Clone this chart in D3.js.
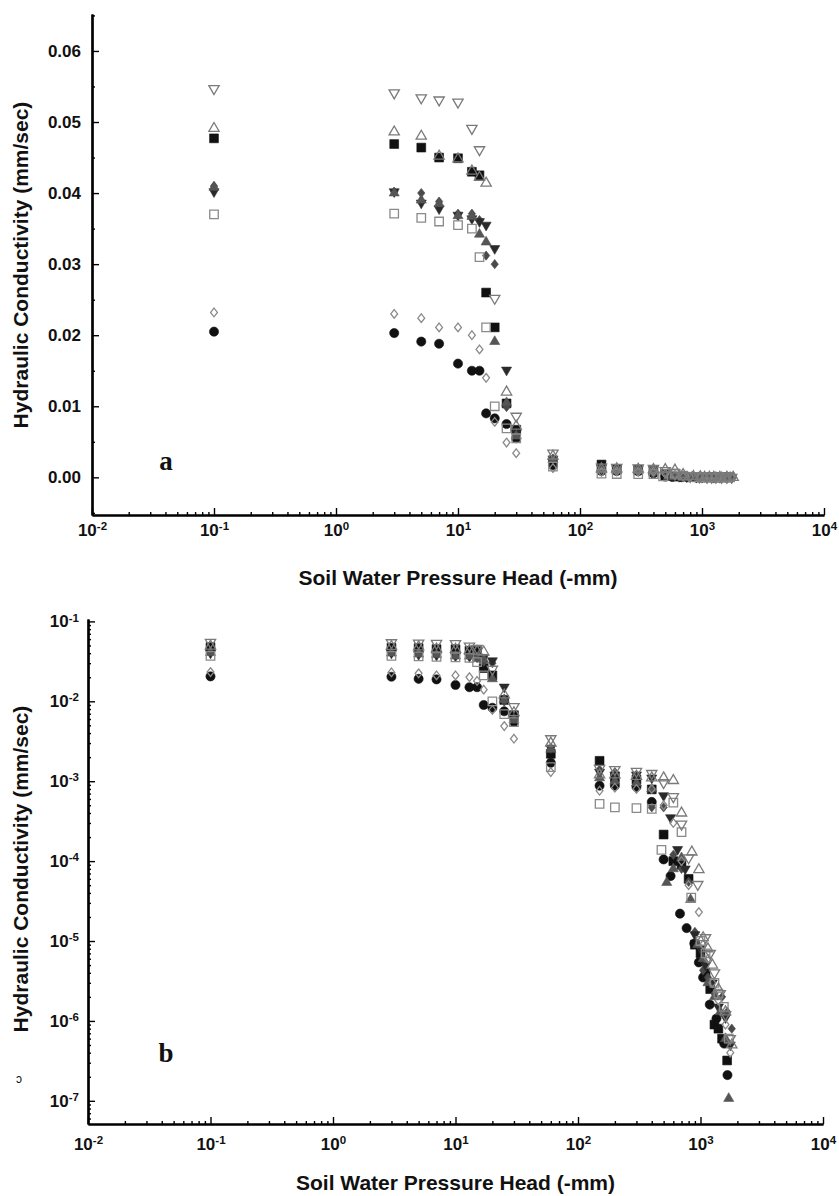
<!DOCTYPE html>
<meta charset="utf-8">
<title>Hydraulic Conductivity vs Soil Water Pressure Head</title>
<style>
body { margin: 0; background: #fff; }
svg text { font-family: "Liberation Sans", Arial, sans-serif; fill: #111; }
</style>
<div id="chart"></div>
<script src="https://d3js.org/d3.v7.min.js"></script>
<script>

// pressure head (-mm) and hydraulic conductivity (mm/sec), one pair of arrays per symbol
var headOpenDown = [0.1, 3, 5, 7, 10, 13, 15, 20, 30, 60, 150, 200, 300, 400, 500, 600, 700, 800, 950, 1100, 1200, 1300, 1450, 1600, 1750];
var condOpenDown = [0.0547, 0.0541, 0.0534, 0.0531, 0.0528, 0.0491, 0.0461, 0.0252, 0.0086, 0.0034, 0.00145, 0.0014, 0.00133, 0.00125, 0.00096, 0.00064, 0.00029, 0.00011, 5.1e-5, 1.1e-5, 7e-6, 4e-6, 2.2e-6, 1.2e-6, 6e-7];

var headOpenUp = [0.1, 3, 5, 7, 10, 13, 15, 17, 25, 30, 60, 150, 200, 300, 400, 500, 600, 700, 850, 970, 1050, 1150, 1250, 1400, 1600, 1800];
var condOpenUp = [0.0491, 0.0486, 0.0480, 0.0452, 0.0448, 0.0431, 0.0422, 0.0414, 0.0120, 0.0072, 0.0030, 0.0012, 0.0012, 0.00115, 0.0011, 0.0011, 0.00102, 0.0004, 0.00013, 7.8e-5, 1.1e-5, 8e-6, 5e-6, 2.5e-6, 1.3e-6, 5e-7];

var headFilledSquare = [0.1, 3, 5, 7, 10, 13, 15, 17, 20, 25, 30, 60, 150, 200, 300, 400, 500, 600, 700, 800, 900, 1000, 1100, 1200, 1300, 1400, 1500, 1650];
var condFilledSquare = [0.0477, 0.0469, 0.0464, 0.0450, 0.0449, 0.0430, 0.0425, 0.0260, 0.0211, 0.0104, 0.0067, 0.0022, 0.0018, 0.0011, 0.00105, 0.00079, 0.000215, 0.0001, 9e-5, 6e-5, 9e-6, 7e-6, 4e-6, 2.5e-6, 9e-7, 8e-7, 6e-7, 3.2e-7];

var headFilledDiamond = [0.1, 3, 5, 7, 10, 13, 15, 17, 20, 25, 30, 60, 150, 200, 300, 400, 500, 600, 700, 800, 900, 1050, 1150, 1300, 1500, 1650, 1800];
var condFilledDiamond = [0.0410, 0.0402, 0.0400, 0.0388, 0.0371, 0.0371, 0.0362, 0.0312, 0.0300, 0.0099, 0.0062, 0.0026, 0.0014, 0.0013, 0.0012, 0.00047, 0.00047, 0.00012, 8e-5, 5.5e-5, 1.3e-5, 4.3e-6, 3.5e-6, 2.2e-6, 2e-6, 1.3e-6, 8e-7];

var headFilledDown = [0.1, 3, 5, 7, 10, 13, 15, 17, 20, 25, 30, 60, 150, 200, 300, 400, 500, 570, 650, 750, 900, 1000, 1100, 1250, 1400, 1600, 1750];
var condFilledDown = [0.0402, 0.0402, 0.0386, 0.0378, 0.0369, 0.0364, 0.0360, 0.0355, 0.0322, 0.0151, 0.0062, 0.0026, 0.0013, 0.0012, 0.0012, 0.0011, 0.00066, 0.00035, 0.00014, 8e-5, 1.2e-5, 8e-6, 5e-6, 3e-6, 1.5e-6, 1.1e-6, 5e-7];

var headOpenSquare = [0.1, 3, 5, 7, 10, 13, 15, 17, 20, 25, 30, 60, 150, 200, 300, 400, 480, 600, 700, 840, 1000, 1100, 1300, 1400, 1550, 1700];
var condOpenSquare = [0.0370, 0.0371, 0.0365, 0.0360, 0.0355, 0.0350, 0.0310, 0.0211, 0.0100, 0.0069, 0.0055, 0.0015, 0.00052, 0.00047, 0.00046, 0.00045, 0.000138, 0.00054, 0.00023, 3.5e-5, 1e-5, 7e-6, 3e-6, 2.2e-6, 1.5e-6, 6e-7];

var headOpenDiamond = [0.1, 3, 5, 7, 10, 13, 15, 17, 20, 25, 30, 60, 150, 200, 300, 400, 500, 600, 700, 800, 970, 1050, 1150, 1250, 1400, 1600, 1750];
var condOpenDiamond = [0.0232, 0.0230, 0.0224, 0.0211, 0.0211, 0.0200, 0.0180, 0.0140, 0.0078, 0.0049, 0.0034, 0.0013, 0.00076, 0.00083, 0.0008, 0.0008, 0.0005, 0.0003, 0.0001, 5e-5, 2.3e-5, 9e-6, 6e-6, 3e-6, 1.8e-6, 9e-7, 4e-7];

var headFilledCircle = [0.1, 3, 5, 7, 10, 13, 15, 17, 20, 25, 30, 60, 150, 200, 300, 400, 500, 570, 680, 770, 890, 970, 1050, 1190, 1350, 1560, 1660];
var condFilledCircle = [0.0205, 0.0203, 0.0191, 0.0188, 0.0160, 0.0150, 0.0150, 0.0090, 0.0083, 0.0075, 0.0055, 0.0017, 0.00088, 0.00088, 0.00085, 0.00055, 0.000105, 6.5e-5, 2.2e-5, 1.45e-5, 9.3e-6, 5.4e-6, 3.5e-6, 1.6e-6, 1.07e-6, 5.2e-7, 2.1e-7];

var headFilledUp = [0.1, 3, 5, 7, 10, 13, 15, 17, 20, 25, 30, 60, 150, 200, 300, 400, 530, 600, 700, 830, 950, 1050, 1150, 1300, 1450, 1600, 1700];
var condFilledUp = [0.0408, 0.0400, 0.0390, 0.0385, 0.0368, 0.0367, 0.0342, 0.0331, 0.0191, 0.0105, 0.0058, 0.0025, 0.0011, 0.001, 0.00095, 0.0008, 5.4e-5, 8e-5, 0.00011, 3.3e-5, 9e-6, 6e-6, 3e-6, 2e-6, 1.3e-6, 6e-7, 1.07e-7];

// axis ticks
var xTickValues = [0.01, 0.1, 1, 10, 100, 1000, 10000];
var yTickLinear = [0, 0.01, 0.02, 0.03, 0.04, 0.05, 0.06];
var yTickLog = [1e-7, 1e-6, 1e-5, 1e-4, 1e-3, 1e-2, 1e-1];

// drawing order: filled marks first, open outlines on top
var series = [
  {name: "filledCircle", head: headFilledCircle, cond: condFilledCircle},
  {name: "filledSquare", head: headFilledSquare, cond: condFilledSquare},
  {name: "filledDiamond", head: headFilledDiamond, cond: condFilledDiamond},
  {name: "filledDown", head: headFilledDown, cond: condFilledDown},
  {name: "filledUp", head: headFilledUp, cond: condFilledUp},
  {name: "openSquare", head: headOpenSquare, cond: condOpenSquare},
  {name: "openDiamond", head: headOpenDiamond, cond: condOpenDiamond},
  {name: "openUp", head: headOpenUp, cond: condOpenUp},
  {name: "openDown", head: headOpenDown, cond: condOpenDown}
];

// a rhombus a little taller than wide
var diamondType = {
  draw: function(ctx, size) {
    var r = Math.sqrt(size) / 2;
    ctx.moveTo(0, -r * 1.2);
    ctx.lineTo(r * 0.95, 0);
    ctx.lineTo(0, r * 1.2);
    ctx.lineTo(-r * 0.95, 0);
    ctx.closePath();
  }
};

var markStyle = {
  filledCircle:  {type: d3.symbolCircle,   size: 66, fill: "#111", stroke: "#111", rot: 0},
  filledSquare:  {type: d3.symbolSquare,   size: 78, fill: "#111", stroke: "#111", rot: 0},
  filledDiamond: {type: diamondType,       size: 60, fill: "#4a4a4a", stroke: "#4a4a4a", rot: 0},
  filledDown:    {type: d3.symbolTriangle, size: 44, fill: "#2a2a2a", stroke: "#2a2a2a", rot: 180},
  filledUp:      {type: d3.symbolTriangle, size: 44, fill: "#555", stroke: "#555", rot: 0},
  openSquare:    {type: d3.symbolSquare,   size: 72, fill: "none", stroke: "#8a8a8a", rot: 0},
  openDiamond:   {type: diamondType,       size: 52, fill: "none", stroke: "#8a8a8a", rot: 0},
  openUp:        {type: d3.symbolTriangle, size: 46, fill: "none", stroke: "#7a7a7a", rot: 0},
  openDown:      {type: d3.symbolTriangle, size: 46, fill: "none", stroke: "#7a7a7a", rot: 180}
};

var svg = d3.select("#chart")
  .append("svg")
    .attr("width", 839)
    .attr("height", 1196);

function logMinors(lo, hi) {
  var out = [];
  for (var e = lo; e < hi; e++) {
    for (var k = 2; k <= 9; k++) out.push(k * Math.pow(10, e));
  }
  return out;
}

function styleAxis(g) {
  g.select(".domain").attr("stroke", "#000").attr("stroke-width", 2.2);
  g.selectAll(".tick line").attr("stroke", "#000").attr("stroke-width", 1.4);
  g.attr("font-family", "Liberation Sans, Arial, sans-serif")
   .attr("font-size", 17)
   .attr("font-weight", "bold");
}

// "10" with a superscript exponent
function powLabels(g) {
  g.selectAll(".tick text").each(function(d) {
    var e = Math.round(Math.log10(d));
    var t = d3.select(this).text(null);
    t.append("tspan").text("10");
    t.append("tspan").attr("dy", "-0.5em").attr("font-size", "0.68em").text(e);
  });
}

function drawPanel(p) {
  var x = d3.scaleLog().domain([0.01, 10000]).range(p.xRange);
  var y = p.y;

  // x axis: minor then major
  svg.append("g")
    .attr("transform", "translate(0," + p.yRange[0] + ")")
    .call(d3.axisBottom(x).tickValues(logMinors(-2, 4)).tickSize(-3).tickSizeOuter(0).tickFormat(""))
    .call(styleAxis);
  var gx = svg.append("g")
    .attr("transform", "translate(0," + p.yRange[0] + ")")
    .call(d3.axisBottom(x).tickValues(xTickValues).tickSize(-7).tickSizeOuter(0).tickPadding(p.xPad))
    .call(styleAxis)
    .call(powLabels);

  // y axis
  svg.append("g")
    .attr("transform", "translate(" + p.xRange[0] + ",0)")
    .call(d3.axisLeft(y).tickValues(p.yMinor).tickSize(-3).tickSizeOuter(0).tickFormat(""))
    .call(styleAxis);
  var gy = svg.append("g")
    .attr("transform", "translate(" + p.xRange[0] + ",0)")
    .call(d3.axisLeft(y).tickValues(p.yTicks).tickSize(-7).tickSizeOuter(0).tickPadding(p.yPad).tickFormat(p.yFormat))
    .call(styleAxis);
  if (p.log) gy.call(powLabels);

  // points
  series.forEach(function(s) {
    var st = markStyle[s.name];
    var sym = d3.symbol().type(st.type).size(st.size);
    svg.append("g")
      .selectAll("path")
      .data(s.head.map(function(h, i) { return {h: h, k: s.cond[i]}; }))
      .enter()
      .append("path")
        .attr("d", sym)
        .attr("transform", function(d) { return "translate(" + x(d.h) + "," + y(d.k) + ") rotate(" + st.rot + ")"; })
        .attr("fill", st.fill)
        .attr("stroke", st.stroke)
        .attr("stroke-width", st.fill == "none" ? 1.3 : 0.6);
  });

  // axis titles
  svg.append("text")
    .attr("x", (p.xRange[0] + p.xRange[1]) / 2)
    .attr("y", p.titleY)
    .attr("text-anchor", "middle")
    .style("font-size", "21px")
    .style("font-weight", "bold")
    .text("Soil Water Pressure Head (-mm)");
  svg.append("text")
    .attr("transform", "translate(28," + p.yLabelY + ") rotate(-90)")
    .attr("text-anchor", "middle")
    .style("font-size", "21px")
    .style("font-weight", "bold")
    .text("Hydraulic Conductivity (mm/sec)");

  // panel letter
  svg.append("text")
    .attr("x", p.letterX)
    .attr("y", p.letterY)
    .attr("text-anchor", "middle")
    .style("font-family", "Liberation Serif, Times New Roman, serif")
    .style("font-size", "27px")
    .style("font-weight", "bold")
    .text(p.letter);
}

// panel a: linear conductivity
drawPanel({
  xRange: [92, 824],
  yRange: [515, 14],
  y: d3.scaleLinear().domain([-0.0053, 0.0652]).range([515, 14]),
  yTicks: yTickLinear,
  yMinor: [-0.005, 0.005, 0.015, 0.025, 0.035, 0.045, 0.055, 0.065],
  yFormat: d3.format(".2f"),
  log: false,
  xPad: 9,
  yPad: 11,
  titleY: 585,
  yLabelY: 265,
  letter: "a",
  letterX: 166,
  letterY: 470
});

// panel b: log conductivity
drawPanel({
  xRange: [88, 823],
  yRange: [1124, 619],
  y: d3.scaleLog().domain([Math.pow(10, -7.29), Math.pow(10, -0.97)]).range([1124, 619]),
  yTicks: yTickLog,
  yMinor: logMinors(-8, -1).filter(function(v) { return v > Math.pow(10, -7.29); }),
  yFormat: null,
  log: true,
  xPad: 14,
  yPad: 9,
  titleY: 1190,
  yLabelY: 869,
  letter: "b",
  letterX: 166,
  letterY: 1062
});

// small stray mark left of panel b
svg.append("text")
  .attr("x", 16)
  .attr("y", 1083)
  .style("font-size", "12px")
  .text("ɔ");

</script>
